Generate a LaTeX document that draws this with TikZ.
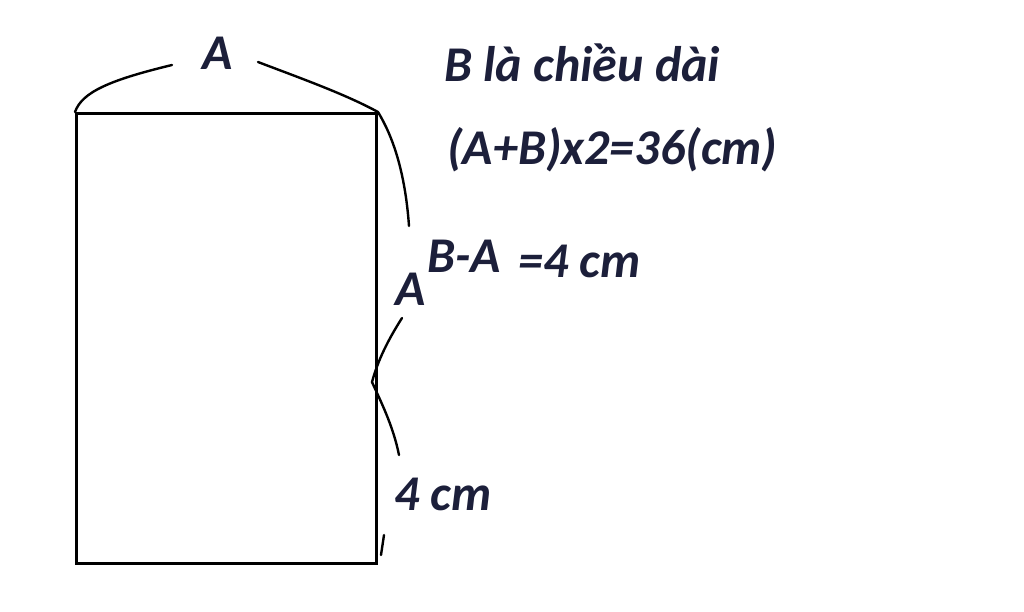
\documentclass[tikz,border=0pt]{standalone}
\usepackage{fontspec}
\setmainfont{Carlito}
\definecolor{ink}{HTML}{1C1F3A}
\begin{document}
\begin{tikzpicture}[x=1pt,y=-1pt,
  lbl/.style={font=\fontsize{50}{54}\selectfont\bfseries\itshape, text=ink, inner sep=0pt},
  edge/.style={line width=3pt, black},
  brace/.style={line width=2.4pt, black, line cap=round}]
\useasboundingbox (0,0) rectangle (1024,611);
\node[draw, edge, minimum width=300pt, minimum height=450pt, inner sep=0pt, anchor=north west] (rect) at (75,112) {};
\node[lbl] (topA) at (218,53) {A};
\node[lbl, anchor=west] (t1) at (444,63) {B là chiều dài};
\node[lbl, anchor=west] (t2) at (447,150) {(A+B)x2=36(cm)};
\node[lbl, anchor=west] (ba) at (427,256) {B-A};
\node[lbl, anchor=west] (eq) at (518,261) {=4 cm};
\node[lbl] (rA) at (411,289) {A};
\node[lbl, anchor=west] (four) at (394,494) {4 cm};
\coordinate (tl) at (rect.north west);
\coordinate (tr) at (rect.north east);
\coordinate (br) at (rect.south east);
\draw[brace] (tl) .. controls (82,92) and (110,80) .. (172,65);
\draw[brace] (258,62) .. controls (300,78) and (345,94) .. (tr);
\draw[brace] (tr) .. controls (392,135) and (405,170) .. (409,226);
\draw[brace] (402,318) .. controls (388,340) and (378,360) .. (372,382)
  .. controls (380,400) and (393,425) .. (399,455);
\draw[brace] (384,535) -- (381,555);
\end{tikzpicture}
\end{document}
